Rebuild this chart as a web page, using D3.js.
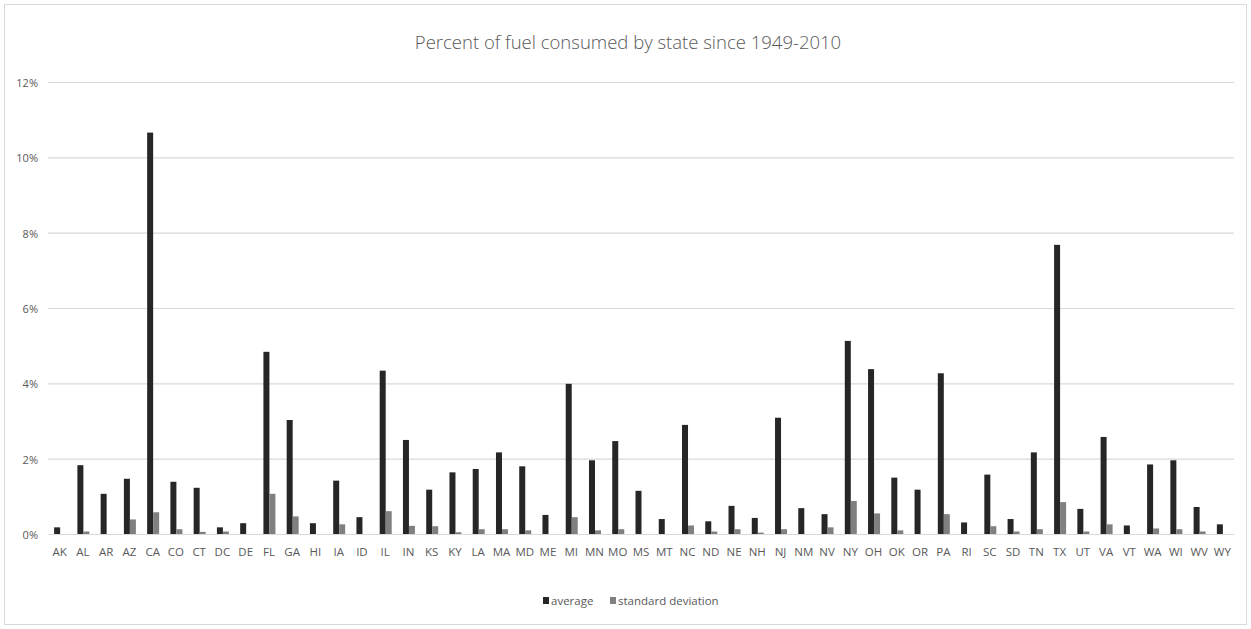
<!DOCTYPE html>
<html>
<head>
<meta charset="utf-8">
<script src="https://d3js.org/d3.v7.min.js"></script>
<style>
  html, body { margin: 0; padding: 0; background: #fff; }
  svg { display: block; font-family: "Open Sans", "Liberation Sans", sans-serif; }
</style>
</head>
<body>
<svg id="chart" width="1251" height="629"></svg>
<script>
// State codes along the x axis
const states = ["AK","AL","AR","AZ","CA","CO","CT","DC","DE","FL","GA","HI","IA","ID","IL","IN","KS","KY","LA","MA","MD","ME","MI","MN","MO","MS","MT","NC","ND","NE","NH","NJ","NM","NV","NY","OH","OK","OR","PA","RI","SC","SD","TN","TX","UT","VA","VT","WA","WI","WV","WY"];

// Average share of fuel consumed (%)
const average = [0.19,1.84,1.08,1.48,10.67,1.40,1.24,0.19,0.30,4.85,3.04,0.30,1.43,0.46,4.35,2.51,1.19,1.65,1.74,2.18,1.81,0.52,4.00,1.97,2.48,1.16,0.41,2.91,0.35,0.76,0.44,3.10,0.70,0.54,5.14,4.39,1.51,1.19,4.28,0.32,1.59,0.41,2.18,7.69,0.68,2.59,0.24,1.86,1.97,0.73,0.27];

// Standard deviation of the share (%)
const stdev = [0,0.08,0,0.40,0.59,0.14,0.07,0.08,0,1.08,0.48,0,0.27,0,0.62,0.23,0.22,0.06,0.14,0.14,0.11,0,0.46,0.11,0.14,0,0,0.24,0.08,0.14,0.05,0.14,0,0.19,0.89,0.56,0.11,0,0.54,0,0.22,0.08,0.14,0.86,0.08,0.27,0,0.16,0.14,0.08,0];

const yTicks = [0, 2, 4, 6, 8, 10, 12];
const seriesNames = ["average", "standard deviation"];
const seriesColors = ["#262626", "#808080"];

const svg = d3.select("#chart");
const W = 1251, H = 629;

// Outer chart frame
svg.append("rect")
  .attr("x", 4.5).attr("y", 4.5)
  .attr("width", W - 9).attr("height", H - 9)
  .attr("fill", "#fff").attr("stroke", "#d9d9d9");

const plot = { left: 48, right: 1234, top: 82.5, bottom: 534.5 };

const x = d3.scaleBand().domain(states).range([plot.left, plot.right]).paddingInner(0).paddingOuter(0);
const y = d3.scaleLinear().domain([0, 12]).range([plot.bottom, plot.top]);
const barW = 6;
const sub = d3.scaleBand().domain(seriesNames).range([0, barW * 2]);

// Title
svg.append("text")
  .attr("x", 628).attr("y", 49)
  .attr("text-anchor", "middle")
  .attr("font-size", 18.5)
  .attr("font-weight", 300)
  .attr("fill", "#595959")
  .text("Percent of fuel consumed by state since 1949-2010");

// Horizontal gridlines
svg.append("g").selectAll("line")
  .data(yTicks.filter(d => d > 0))
  .join("line")
  .attr("x1", plot.left).attr("x2", plot.right)
  .attr("y1", d => y(d)).attr("y2", d => y(d))
  .attr("stroke", "#d9d9d9").attr("stroke-width", 1.2);

// Y axis labels
const yAxis = d3.axisLeft(y).tickValues(yTicks).tickSize(0).tickPadding(0).tickFormat(d => d + "%");
const yg = svg.append("g").attr("transform", `translate(${38},0)`).call(yAxis);
yg.select(".domain").remove();
yg.selectAll("text").attr("font-size", 11).attr("fill", "#595959")
  .attr("font-family", "'Open Sans', sans-serif").attr("dy", "0.35em");

// Bars
const groups = svg.append("g").selectAll("g")
  .data(states)
  .join("g")
  .attr("transform", d => `translate(${x(d) + x.bandwidth() / 2 - barW + 0.5},0)`);

groups.selectAll("rect")
  .data((d, i) => [
    { key: seriesNames[0], value: average[i] },
    { key: seriesNames[1], value: stdev[i] }
  ])
  .join("rect")
  .attr("x", d => sub(d.key))
  .attr("width", sub.bandwidth())
  .attr("y", d => y(d.value))
  .attr("height", d => y(0) - y(d.value))
  .attr("fill", (d, i) => seriesColors[i]);

// Baseline
svg.append("line")
  .attr("x1", plot.left).attr("x2", plot.right)
  .attr("y1", y(0)).attr("y2", y(0))
  .attr("stroke", "#d9d9d9").attr("stroke-width", 1.2);

// Category axis
const xAxis = d3.axisBottom(x).tickSize(0).tickPadding(0);
const xg = svg.append("g").attr("transform", `translate(0,${552})`).call(xAxis);
xg.select(".domain").remove();
xg.selectAll("text").attr("font-size", 11.5).attr("fill", "#595959")
  .attr("font-family", "'Open Sans', sans-serif").attr("dy", "0.35em");

// Legend
const legendItems = [
  { name: seriesNames[0], color: seriesColors[0], x: 543 },
  { name: seriesNames[1], color: seriesColors[1], x: 610 }
];
const lg = svg.append("g").selectAll("g").data(legendItems).join("g")
  .attr("transform", d => `translate(${d.x},601)`);
lg.append("rect").attr("x", 0).attr("y", -4).attr("width", 6).attr("height", 7).attr("fill", d => d.color);
lg.append("text").attr("x", 8).attr("y", 0).attr("dy", "0.35em")
  .attr("font-size", 11.5).attr("fill", "#595959")
  .text(d => d.name);
</script>
</body>
</html>
